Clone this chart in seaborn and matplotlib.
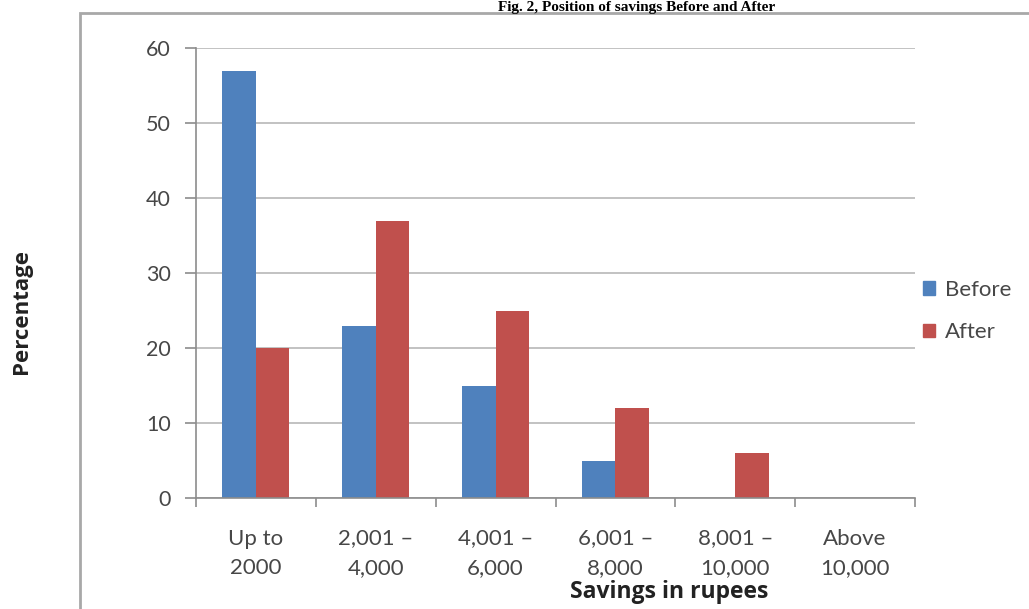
import matplotlib
matplotlib.use("Agg")
import matplotlib.pyplot as plt
from matplotlib.patches import Rectangle
import pandas as pd
import seaborn as sns

# Savings bands (rupees) and share of respondents in each band
categories = ["Up to\n2000", "2,001 –\n4,000", "4,001 –\n6,000",
              "6,001 –\n8,000", "8,001 –\n10,000", "Above\n10,000"]
before = [57, 23, 15, 5, 0, 0]
after = [20, 37, 25, 12, 6, 0]
series = ["Before", "After"]
y_ticks = [0, 10, 20, 30, 40, 50, 60]

df = pd.DataFrame({
    "band": categories * 2,
    "value": before + after,
    "period": [series[0]] * len(categories) + [series[1]] * len(categories),
})

sns.set_theme(style="white")
plt.rcParams["font.family"] = ["Lato", "DejaVu Sans"]

W, H = 1029, 609
fig = plt.figure(figsize=(W / 100, H / 100), dpi=100)
ax = fig.add_axes([196 / W, 1 - 498 / H, (915 - 196) / W, (498 - 48) / H])

palette = {"Before": "#4F81BD", "After": "#C0504D"}
sns.barplot(data=df, x="band", y="value", hue="period", order=categories,
            hue_order=series, palette=palette, width=0.56, gap=0,
            saturation=1, linewidth=0, ax=ax, legend=False)

ax.set_xlim(-0.5, len(categories) - 0.5)
ax.set_ylim(0, 60)
ax.set_yticks(y_ticks)
ax.yaxis.grid(True, color="#b8b8b8", linewidth=1.2)
ax.set_axisbelow(True)
ax.set_xlabel("")
ax.set_ylabel("")

gray = "#8c8c8c"
label_gray = "#474747"
for side in ("top", "right"):
    ax.spines[side].set_visible(False)
for side in ("left", "bottom"):
    ax.spines[side].set_color(gray)
    ax.spines[side].set_linewidth(1.2)

ax.tick_params(axis="y", direction="out", length=8, width=1.2, color=gray,
               labelsize=15.5, labelcolor=label_gray, pad=10, left=True)
ax.tick_params(axis="x", which="major", length=0, labelsize=16,
               labelcolor=label_gray, pad=22)
ax.set_xticks([i - 0.5 for i in range(len(categories) + 1)], minor=True)
ax.tick_params(axis="x", which="minor", direction="out", length=6.5,
               width=1.2, color=gray, bottom=True)
for lbl in ax.get_xticklabels():
    lbl.set_linespacing(1.6)

# Legend on the right of the plot area
handles = [Rectangle((0, 0), 1, 1, color=palette[s]) for s in series]
fig.legend(handles, series, loc="center left",
           bbox_to_anchor=(903 / W, 1 - 311 / H), frameon=False,
           handlelength=0.55, handleheight=0.55, handletextpad=0.45,
           labelspacing=1.0, prop={"size": 16}, labelcolor=label_gray)

# Axis titles
fig.text(669 / W, 1 - 592 / H, "Savings in rupees", ha="center",
         va="center", fontsize=16.5, fontweight="bold", color="#222222",
         family=["Open Sans", "DejaVu Sans"])
fig.text(22 / W, 1 - 311 / H, "Percentage", ha="center", va="center",
         rotation=90, fontsize=16, fontweight="bold", color="#222222",
         family=["Open Sans", "DejaVu Sans"])

# Chart frame
fig.patches.append(Rectangle((80 / W, -0.01), 1.0, 1 - 13 / H + 0.01,
                             transform=fig.transFigure, fill=False,
                             edgecolor="#a8a8a8", linewidth=2))

# Figure caption
fig.text(637 / W, 1 - 11 / H, "Fig. 2, Position of savings Before and After",
         ha="center", va="baseline", fontsize=11, fontweight="bold",
         color="#000000", family=["Liberation Serif", "DejaVu Serif"])

fig.savefig("out.png", dpi=100)
